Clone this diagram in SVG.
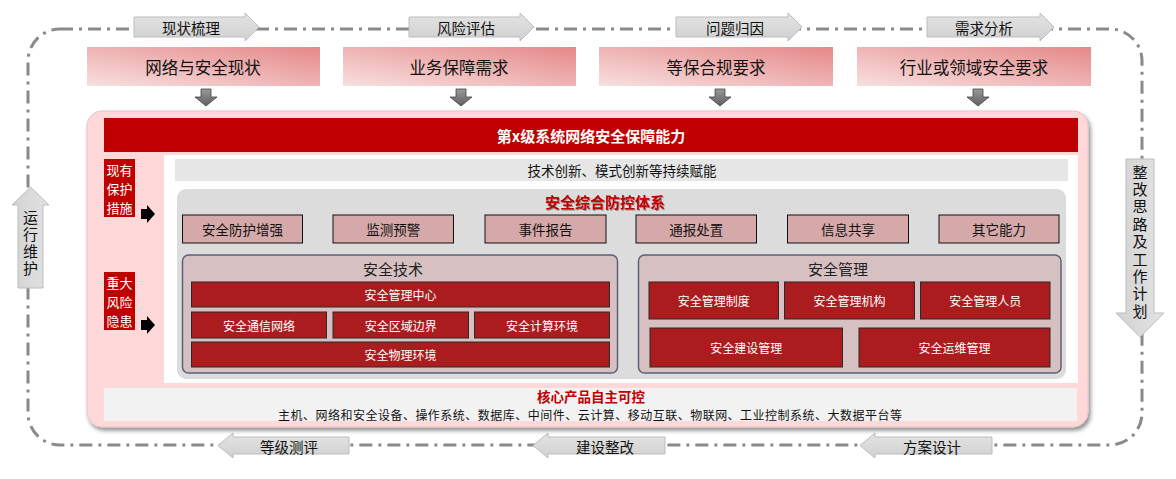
<svg xmlns="http://www.w3.org/2000/svg" width="1176" height="479" viewBox="0 0 1176 479">
<defs>
<linearGradient id="gTop" x1="0" y1="1" x2="1" y2="0">
<stop offset="0" stop-color="#f8e0e0"/>
<stop offset="1" stop-color="#e58888"/>
</linearGradient>
<linearGradient id="gProc" x1="0" y1="0" x2="0" y2="1">
<stop offset="0" stop-color="#e4e4e4"/>
<stop offset="1" stop-color="#d0d0d0"/>
</linearGradient>
<linearGradient id="gProcV" x1="0" y1="0" x2="1" y2="0">
<stop offset="0" stop-color="#d3d3d3"/>
<stop offset="1" stop-color="#e2e2e2"/>
</linearGradient>
<linearGradient id="gDown" x1="0" y1="0" x2="0" y2="1">
<stop offset="0" stop-color="#9a9a9a"/>
<stop offset="1" stop-color="#5e5e5e"/>
</linearGradient>
<filter id="shadow" x="-5%" y="-5%" width="110%" height="115%">
<feDropShadow dx="2" dy="3" stdDeviation="2" flood-color="#000" flood-opacity="0.45"/>
</filter>
<filter id="glow" x="-5%" y="-5%" width="110%" height="110%">
<feDropShadow dx="0" dy="0" stdDeviation="2" flood-color="#ffffff" flood-opacity="1"/>
</filter>
<filter id="tshadow" x="-10%" y="-20%" width="120%" height="160%">
<feDropShadow dx="1" dy="1" stdDeviation="0.6" flood-color="#000" flood-opacity="0.35"/>
</filter>
</defs>
<style>
text{font-family:"Noto Sans CJK SC","Liberation Sans",sans-serif;}
.loop{fill:none;stroke:#8a8a8a;stroke-width:3;stroke-dasharray:13 6 3 6;}
.proc{fill:url(#gProc);stroke:#bdbdbd;stroke-width:1;}
.procv{fill:url(#gProcV);stroke:#bdbdbd;stroke-width:1;}
.ptxt{font-size:14.5px;fill:#111;text-anchor:middle;dominant-baseline:central;}
.top{fill:url(#gTop);}
.ttxt{font-size:16.5px;fill:#111;text-anchor:middle;dominant-baseline:central;}
.down{fill:url(#gDown);stroke:#444;stroke-width:0.8;}
.blk{fill:#000;}
.redlbl{fill:#c00000;}
.wtxt{font-size:13px;fill:#fff;text-anchor:middle;dominant-baseline:central;}
.cap{fill:#d5a9a9;stroke:#111;stroke-width:1;}
.ctxt{font-size:13.5px;fill:#111;text-anchor:middle;dominant-baseline:central;}
.sub{fill:#d6c0c1;stroke:#5c6278;stroke-width:1.5;}
.stitle{font-size:15px;fill:#222;text-anchor:middle;dominant-baseline:central;}
.rbox{fill:#ab1c1f;stroke:#2a2a2a;stroke-width:1;}
.rtxt{font-size:12px;fill:#fff;text-anchor:middle;dominant-baseline:central;}
.vtxt{font-size:15px;fill:#111;writing-mode:vertical-rl;text-anchor:start;}
</style>

<g id="connectors">
<rect class="loop" x="28" y="29" width="1114" height="416" rx="32" ry="32"/>
<polygon class="down" points="201,89 211,89 211,97 217,97 206,106 195,97 201,97"/>
<polygon class="down" points="456,89 466,89 466,97 472,97 461,106 450,97 456,97"/>
<polygon class="down" points="715,89 725,89 725,97 731,97 720,106 709,97 715,97"/>
<polygon class="down" points="973,89 983,89 983,97 989,97 978,106 967,97 973,97"/>
</g>

<g id="proc-xianzhuang">
<polygon class="proc" points="134,17 245,17 245,13 259,27 245,41 245,37 134,37"/>
<text class="ptxt" x="191" y="27">现状梳理</text>
</g>
<g id="proc-fengxian">
<polygon class="proc" points="409,17 520,17 520,13 534,27 520,41 520,37 409,37"/>
<text class="ptxt" x="466" y="27">风险评估</text>
</g>
<g id="proc-wenti">
<polygon class="proc" points="676,17 788,17 788,13 802,27 788,41 788,37 676,37"/>
<text class="ptxt" x="735" y="27">问题归因</text>
</g>
<g id="proc-xuqiu">
<polygon class="proc" points="927,17 1040,17 1040,13 1054,27 1040,41 1040,37 927,37"/>
<text class="ptxt" x="984" y="27">需求分析</text>
</g>

<g id="proc-dengji">
<polygon class="proc" points="349,437 233,437 233,433 218,445.5 233,458 233,454 349,454"/>
<text class="ptxt" x="289" y="446">等级测评</text>
</g>
<g id="proc-jianshe">
<polygon class="proc" points="665,437 548,437 548,433 533,445.5 548,458 548,454 665,454"/>
<text class="ptxt" x="605" y="446">建设整改</text>
</g>
<g id="proc-fangan">
<polygon class="proc" points="992,437 875,437 875,433 860,445.5 875,458 875,454 992,454"/>
<text class="ptxt" x="932" y="446">方案设计</text>
</g>

<g id="proc-yunxing">
<polygon class="procv" points="18,288 18,205 12,205 30.5,187 49,205 43,205 43,288"/>
<text class="vtxt" x="30.5" y="209.5" letter-spacing="2">运行维护</text>
</g>
<g id="proc-zhenggai">
<polygon class="procv" points="1126,159 1154,159 1154,313 1164,313 1140,337 1116,313 1126,313"/>
<text class="vtxt" x="1140" y="164.5" letter-spacing="2.4">整改思路及工作计划</text>
</g>

<g id="top-xianzhuang">
<rect class="top" x="87" y="47" width="233" height="39"/>
<text class="ttxt" x="203" y="67">网络与安全现状</text>
</g>
<g id="top-yewu">
<rect class="top" x="343" y="47" width="233" height="39"/>
<text class="ttxt" x="459" y="67">业务保障需求</text>
</g>
<g id="top-dengbao">
<rect class="top" x="599" y="47" width="234" height="39"/>
<text class="ttxt" x="716" y="67">等保合规要求</text>
</g>
<g id="top-hangye">
<rect class="top" x="857" y="47" width="234" height="39"/>
<text class="ttxt" x="974" y="67">行业或领域安全要求</text>
</g>

<g id="container">
<rect x="87" y="111" width="1001" height="316" rx="15" ry="15" fill="#ffd9d9" stroke="#e8c4c4" stroke-width="1" filter="url(#shadow)"/>
<rect x="164" y="155" width="914" height="228" fill="#ffffff"/>
</g>

<g id="title-bar">
<rect x="104" y="118" width="974" height="34" fill="#c00000"/>
<text x="591" y="135" font-size="15" font-weight="bold" fill="#fff" text-anchor="middle" dominant-baseline="central">第x级系统网络安全保障能力</text>
</g>

<g id="label-xianyou">
<rect class="redlbl" x="104" y="159" width="31" height="58"/>
<text class="wtxt" x="119.5" y="169.5">现有</text>
<text class="wtxt" x="119.5" y="188.5">保护</text>
<text class="wtxt" x="119.5" y="207.5">措施</text>
</g>
<g id="label-zhongda">
<rect class="redlbl" x="104" y="272" width="31" height="58"/>
<text class="wtxt" x="119.5" y="282.5">重大</text>
<text class="wtxt" x="119.5" y="301.5">风险</text>
<text class="wtxt" x="119.5" y="320.5">隐患</text>
</g>
<g id="arrows-black">
<polygon class="blk" points="141,209 147,209 147,205 155,214 147,223 147,219 141,219"/>
<polygon class="blk" points="141,320 147,320 147,316 155,325 147,334 147,330 141,330"/>
</g>

<g id="innovation-bar">
<rect x="175" y="159" width="893" height="22" fill="#e6e6e6"/>
<text x="622" y="170" font-size="13.5" fill="#111" text-anchor="middle" dominant-baseline="central">技术创新、模式创新等持续赋能</text>
</g>

<g id="defense-system">
<rect x="177" y="189" width="889" height="190" rx="9" ry="9" fill="#dcdcdc" filter="url(#glow)"/>
<text x="605" y="201" font-size="15" font-weight="bold" fill="#c00000" text-anchor="middle" dominant-baseline="central" filter="url(#tshadow)">安全综合防控体系</text>
</g>

<g id="cap-fanghu"><rect class="cap" x="182.5" y="215" width="120" height="28"/><text class="ctxt" x="242.5" y="229">安全防护增强</text></g>
<g id="cap-jiance"><rect class="cap" x="333" y="215" width="120.5" height="28"/><text class="ctxt" x="393.3" y="229">监测预警</text></g>
<g id="cap-shijian"><rect class="cap" x="485" y="215" width="121" height="28"/><text class="ctxt" x="545.5" y="229">事件报告</text></g>
<g id="cap-tongbao"><rect class="cap" x="636" y="215" width="120.5" height="28"/><text class="ctxt" x="696.3" y="229">通报处置</text></g>
<g id="cap-xinxi"><rect class="cap" x="787.5" y="215" width="121" height="28"/><text class="ctxt" x="848" y="229">信息共享</text></g>
<g id="cap-qita"><rect class="cap" x="939" y="215" width="120" height="28"/><text class="ctxt" x="999" y="229">其它能力</text></g>

<g id="panel-jishu">
<rect class="sub" x="182.5" y="255" width="435" height="118" rx="6" ry="6"/>
<text class="stitle" x="393" y="268">安全技术</text>
</g>
<g id="tech-zhongxin"><rect class="rbox" x="191.5" y="282" width="418" height="25"/><text class="rtxt" x="400.5" y="294.5">安全管理中心</text></g>
<g id="tech-tongxin"><rect class="rbox" x="191.5" y="312" width="135" height="26"/><text class="rtxt" x="259" y="325">安全通信网络</text></g>
<g id="tech-quyu"><rect class="rbox" x="333" y="312" width="135.5" height="26"/><text class="rtxt" x="400.8" y="325">安全区域边界</text></g>
<g id="tech-jisuan"><rect class="rbox" x="474.5" y="312" width="135" height="26"/><text class="rtxt" x="542" y="325">安全计算环境</text></g>
<g id="tech-wuli"><rect class="rbox" x="191.5" y="342" width="418" height="25"/><text class="rtxt" x="400.5" y="354.5">安全物理环境</text></g>

<g id="panel-guanli">
<rect class="sub" x="638.5" y="255" width="422.5" height="118" rx="6" ry="6"/>
<text class="stitle" x="838" y="268">安全管理</text>
</g>
<g id="mgmt-zhidu"><rect class="rbox" x="649" y="282" width="129.5" height="37"/><text class="rtxt" x="713.8" y="300.5">安全管理制度</text></g>
<g id="mgmt-jigou"><rect class="rbox" x="784.5" y="282" width="130" height="37"/><text class="rtxt" x="849.5" y="300.5">安全管理机构</text></g>
<g id="mgmt-renyuan"><rect class="rbox" x="920.5" y="282" width="129.5" height="37"/><text class="rtxt" x="985.3" y="300.5">安全管理人员</text></g>
<g id="mgmt-jianshe"><rect class="rbox" x="650" y="328" width="192.5" height="39"/><text class="rtxt" x="746.3" y="347.5">安全建设管理</text></g>
<g id="mgmt-yunwei"><rect class="rbox" x="859" y="328" width="191" height="39"/><text class="rtxt" x="954.5" y="347.5">安全运维管理</text></g>

<g id="core-bar">
<rect x="104" y="388" width="973" height="33" fill="#f2f2f2"/>
<text x="591" y="395.5" font-size="13.5" font-weight="bold" fill="#c00000" text-anchor="middle" dominant-baseline="central">核心产品自主可控</text>
<text x="590" y="414.5" font-size="12" fill="#111" text-anchor="middle" dominant-baseline="central" textLength="624" lengthAdjust="spacing">主机、网络和安全设备、操作系统、数据库、中间件、云计算、移动互联、物联网、工业控制系统、大数据平台等</text>
</g>
</svg>
